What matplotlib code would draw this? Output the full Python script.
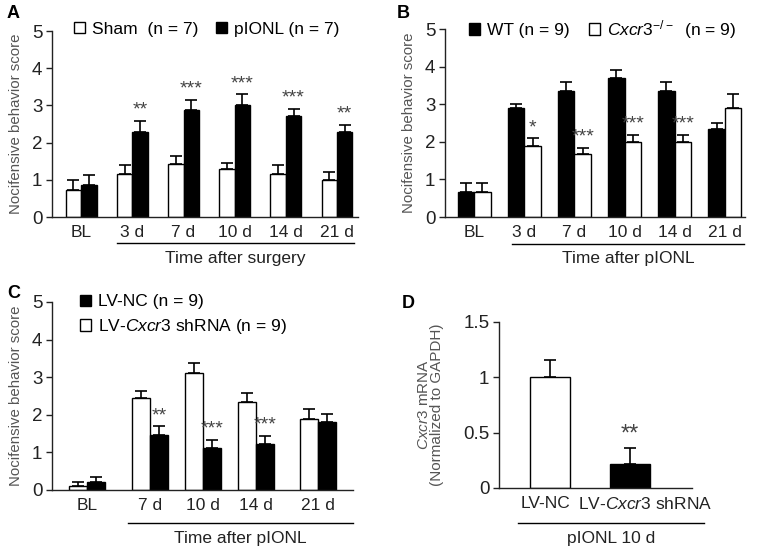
import matplotlib
matplotlib.use("Agg")
import matplotlib.pyplot as plt
import numpy as np
from matplotlib.patches import Patch
from matplotlib.lines import Line2D

plt.rcParams['font.family'] = ['Liberation Sans', 'DejaVu Sans']
plt.rcParams['mathtext.fontset'] = 'custom'
plt.rcParams['mathtext.rm'] = 'Liberation Sans'
plt.rcParams['mathtext.it'] = 'Liberation Sans:italic'

# ── data ──────────────────────────────────────────────────────────────
a_cats = ["BL", "3 d", "7 d", "10 d", "14 d", "21 d"]
a_sham = [0.72, 1.15, 1.43, 1.30, 1.15, 1.00]
a_sham_err = [0.99, 1.41, 1.63, 1.46, 1.41, 1.21]
a_pionl = [0.87, 2.28, 2.87, 3.00, 2.72, 2.28]
a_pionl_err = [1.12, 2.58, 3.14, 3.30, 2.91, 2.48]
a_stars = ["", "**", "***", "***", "***", "**"]

b_cats = ["BL", "3 d", "7 d", "10 d", "14 d", "21 d"]
b_wt = [0.67, 2.89, 3.35, 3.69, 3.35, 2.34]
b_wt_err = [0.91, 3.00, 3.58, 3.91, 3.58, 2.51]
b_ko = [0.67, 1.90, 1.67, 2.00, 2.00, 2.89]
b_ko_err = [0.91, 2.09, 1.84, 2.18, 2.18, 3.28]
b_stars = ["", "*", "***", "***", "***", ""]

c_cats = ["BL", "7 d", "10 d", "14 d", "21 d"]
c_pos = [0, 1.19, 2.19, 3.19, 4.36]
c_sh = [0.10, 2.46, 3.12, 2.33, 1.90]
c_sh_err = [0.22, 2.62, 3.37, 2.59, 2.15]
c_nc = [0.22, 1.46, 1.13, 1.22, 1.80]
c_nc_err = [0.35, 1.69, 1.33, 1.44, 2.02]
c_stars = ["", "**", "***", "***", ""]

d_cats = ["LV-NC", r"LV-$\it{Cxcr3}$ shRNA"]
d_label_pos = [-0.06, 1.19]
d_vals = [1.00, 0.22]
d_err = [1.16, 0.36]
d_stars = ["", "**"]

W = 764
H = 552
fig = plt.figure(figsize=(W / 100, H / 100), dpi=100)
fig.patch.set_facecolor("white")

TXT = "#222222"
LAB = "#555555"


def make_ax(x0, x1, ytop, ybot):
    ax = fig.add_axes([x0 / W, 1 - ybot / H, (x1 - x0) / W, (ybot - ytop) / H])
    ax.spines["top"].set_visible(False)
    ax.spines["right"].set_visible(False)
    for s in ("left", "bottom"):
        ax.spines[s].set_linewidth(1.0)
        ax.spines[s].set_color(TXT)
    ax.tick_params(axis="y", direction="out", length=4, width=1,
                   labelsize=13.5, colors=TXT, pad=3)
    ax.tick_params(axis="x", length=0, labelsize=12.5, colors=TXT, pad=6)
    return ax


def bars(ax, x, vals, errs, color, width):
    x = np.asarray(x)
    ax.bar(x, vals, width, color=color, edgecolor="black", linewidth=1.0, zorder=2)
    up = np.asarray(errs) - np.asarray(vals)
    ax.errorbar(x, vals, yerr=[np.zeros_like(up), up], fmt="none", ecolor="black",
                elinewidth=1.2, capsize=4.5, capthick=1.2, zorder=1)


def stars(ax, x, errs, labels, off=0.06, size=14):
    for xi, e, s in zip(x, errs, labels):
        if s:
            ax.text(xi, e + off, s, ha="center", va="bottom", fontsize=size,
                    color="#444444")


def under_line(x0, x1, ypix, text, ty):
    fig.add_artist(Line2D([x0 / W, x1 / W], [1 - ypix / H, 1 - ypix / H],
                          color="black", linewidth=1.0))
    fig.text((x0 + x1) / 2 / W, 1 - ty / H, text, ha="center", va="center",
             fontsize=12.5, color=TXT)


ylab = "Nocifensive behavior score"
leg_kw = dict(frameon=False, fontsize=12.5, handlelength=0.65, handleheight=0.65,
              handletextpad=0.4, borderpad=0, borderaxespad=0)

# ── Panel A ───────────────────────────────────────────────────────────
ax = make_ax(52, 358, 31, 217)
x = np.arange(len(a_cats))
bw = 0.30
bars(ax, x - bw / 2, a_sham, a_sham_err, "white", bw)
bars(ax, x + bw / 2, a_pionl, a_pionl_err, "black", bw)
stars(ax, x + bw / 2, a_pionl_err, a_stars)
ax.set_xlim(-0.57, 5.41)
ax.set_ylim(0, 5)
ax.set_yticks([0, 1, 2, 3, 4, 5])
ax.set_xticks(x, a_cats)
ax.set_ylabel(ylab, fontsize=10.8, color=LAB, labelpad=6)
ax.legend(handles=[Patch(facecolor="white", edgecolor="black", label="Sham  (n = 7)"),
                   Patch(facecolor="black", edgecolor="black", label="pIONL (n = 7)")],
          ncol=2, loc="upper left", bbox_to_anchor=(0.072, 1.05), columnspacing=1.0,
          **leg_kw)
under_line(117, 354, 243, "Time after surgery", 258)
fig.text(7 / W, 1 - 14 / H, "A", fontsize=13, fontweight="bold", va="center")

# ── Panel B ───────────────────────────────────────────────────────────
ax = make_ax(445, 745, 29, 217)
x = np.arange(len(b_cats))
bw = 0.33
bars(ax, x - bw / 2, b_wt, b_wt_err, "black", bw)
bars(ax, x + bw / 2, b_ko, b_ko_err, "white", bw)
stars(ax, x + bw / 2, b_ko_err, b_stars)
ax.set_xlim(-0.58, 5.4)
ax.set_ylim(0, 5)
ax.set_yticks([0, 1, 2, 3, 4, 5])
ax.set_xticks(x, b_cats)
ax.set_ylabel(ylab, fontsize=10.8, color=LAB, labelpad=6)
ax.legend(handles=[Patch(facecolor="black", edgecolor="black", label="WT (n = 9)"),
                   Patch(facecolor="white", edgecolor="black",
                         label=r"$\it{Cxcr3}^{-/-}$  (n = 9)")],
          ncol=2, loc="upper left", bbox_to_anchor=(0.08, 1.06), columnspacing=1.1,
          **leg_kw)
under_line(512, 744, 244, "Time after pIONL", 258)
fig.text(397 / W, 1 - 14 / H, "B", fontsize=13, fontweight="bold", va="center")

# ── Panel C ───────────────────────────────────────────────────────────
ax = make_ax(52, 353, 302, 490)
x = np.asarray(c_pos)
bw = 0.34
bars(ax, x - bw / 2, c_sh, c_sh_err, "white", bw)
bars(ax, x + bw / 2, c_nc, c_nc_err, "black", bw)
stars(ax, x + bw / 2, c_nc_err, c_stars)
ax.set_xlim(-0.66, 5.02)
ax.set_ylim(0, 5)
ax.set_yticks([0, 1, 2, 3, 4, 5])
ax.set_xticks(x, c_cats)
ax.set_ylabel(ylab, fontsize=10.8, color=LAB, labelpad=6)
ax.legend(handles=[Patch(facecolor="black", edgecolor="black", label="LV-NC (n = 9)"),
                   Patch(facecolor="white", edgecolor="black",
                         label=r"LV-$\it{Cxcr3}$ shRNA (n = 9)")],
          loc="upper left", bbox_to_anchor=(0.093, 1.04), labelspacing=0.45, **leg_kw)
under_line(128, 353, 523, "Time after pIONL", 539)
fig.text(7 / W, 1 - 294 / H, "C", fontsize=13, fontweight="bold", va="center")

# ── Panel D ───────────────────────────────────────────────────────────
ax = make_ax(499, 692, 322, 488)
x = np.arange(len(d_vals))
bw = 0.5
bars(ax, x[:1], d_vals[:1], d_err[:1], "white", bw)
bars(ax, x[1:], d_vals[1:], d_err[1:], "black", bw)
stars(ax, x, d_err, d_stars, off=0.02, size=17)
ax.set_xlim(-0.64, 1.78)
ax.set_ylim(0, 1.5)
ax.set_yticks([0, 0.5, 1, 1.5], ["0", "0.5", "1", "1.5"])
ax.set_xticks(d_label_pos, d_cats)
ax.text(-0.39, 0.5, r"$\it{Cxcr3}$ mRNA", transform=ax.transAxes, rotation=90,
        ha="center", va="center", fontsize=11, color=LAB)
ax.text(-0.32, 0.5, "(Normalized to GAPDH)", transform=ax.transAxes, rotation=90,
        ha="center", va="center", fontsize=11, color=LAB)
under_line(518, 704, 523, "pIONL 10 d", 538)
fig.text(402 / W, 1 - 304 / H, "D", fontsize=13, fontweight="bold", va="center")

plt.savefig("out.png", dpi=100, facecolor="white")
plt.close()
